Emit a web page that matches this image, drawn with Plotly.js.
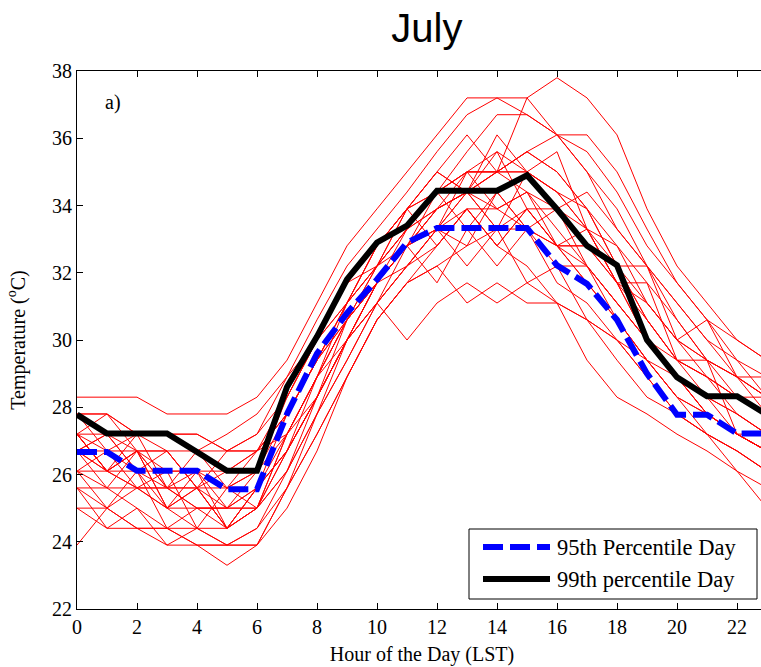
<!DOCTYPE html>
<html>
<head>
<meta charset="utf-8">
<script src="https://cdn.plot.ly/plotly-3.0.1.min.js"></script>
<style>
html, body { margin: 0; padding: 0; overflow: hidden; background: #fff; }
#chart { width: 768px; height: 667px; }
</style>
</head>
<body>
<div id="chart"></div>
<script>
// Hour of the day (LST)
var hours = [0,1,2,3,4,5,6,7,8,9,10,11,12,13,14,15,16,17,18,19,20,21,22,23];

// Individual July days (°C)
var day01 = [27.8,27.8,27.2,27.2,26.7,26.7,27.2,28.9,30.6,32.2,33.3,34.4,35.6,36.7,37.2,37.2,37.8,37.2,36.1,33.9,32.2,31.1,30.0,29.4];
var day02 = [28.3,28.3,28.3,27.8,27.8,27.8,28.3,29.4,31.1,32.8,33.9,35.0,36.1,37.2,37.2,36.7,36.1,35.0,33.3,32.2,31.1,30.0,29.4,28.9];
var day03 = [27.2,26.1,26.7,25.6,26.1,25.0,26.1,28.3,30.0,31.7,32.8,33.9,35.0,36.1,35.0,37.2,36.1,36.1,35.0,33.3,31.7,30.6,30.0,29.4];
var day04 = [26.7,26.1,25.6,25.0,24.4,23.9,24.4,26.1,28.3,30.6,32.2,33.3,34.4,35.6,36.7,36.7,36.1,35.0,33.9,32.2,30.6,29.4,28.3,27.8];
var day05 = [27.8,27.2,26.1,26.7,25.6,26.1,26.7,27.8,29.4,31.1,32.8,33.9,35.0,34.4,36.1,35.0,35.6,33.3,32.8,31.7,30.6,29.4,28.9,28.3];
var day06 = [26.1,25.6,25.0,24.4,23.9,23.9,23.9,25.6,27.8,30.0,31.7,32.8,33.9,34.4,35.0,35.6,35.0,33.9,32.2,30.6,29.4,28.9,27.8,27.2];
var day07 = [26.7,27.2,26.1,25.0,25.6,24.4,25.6,27.2,28.9,30.6,31.7,32.8,34.4,33.3,34.4,33.3,33.9,32.8,31.7,30.6,29.4,28.9,28.3,27.8];
var day08 = [27.2,26.1,27.2,26.7,25.6,26.7,27.2,28.3,30.0,31.1,32.2,32.8,33.3,34.4,33.3,33.9,32.8,32.2,31.1,30.0,29.4,28.9,28.3,28.3];
var day09 = [23.9,25.0,25.6,25.6,25.0,25.0,25.6,26.7,28.3,30.0,31.7,33.3,33.9,34.4,33.9,33.3,32.8,31.7,30.6,29.4,28.3,27.8,27.2,26.7];
var day10 = [25.6,25.0,24.4,24.4,23.9,23.3,23.9,25.6,27.2,28.9,30.6,31.7,32.2,32.8,33.3,33.3,32.8,31.7,30.6,29.4,28.3,27.2,26.7,26.1];
var day11 = [25.0,25.0,24.4,24.4,24.4,24.4,25.0,26.7,28.3,30.0,31.1,30.0,31.1,31.7,31.1,31.7,31.1,30.6,30.0,29.4,28.9,27.8,27.2,26.7];
var day12 = [27.2,27.8,26.7,26.7,25.6,25.6,26.7,27.2,28.9,30.6,32.2,33.9,35.0,34.4,35.6,33.9,33.9,32.2,31.1,30.0,28.9,28.3,27.8,27.2];
var day13 = [26.7,25.6,26.7,25.0,26.1,24.4,25.6,27.8,29.4,30.6,31.7,32.8,31.7,33.3,32.2,33.3,31.7,31.1,30.0,28.9,27.8,27.2,26.7,26.1];
var day14 = [26.1,26.1,25.6,25.6,25.0,25.0,25.0,26.1,27.8,29.4,31.1,32.2,33.3,33.9,33.9,34.4,33.9,33.3,31.7,31.7,29.4,29.4,27.2,26.7];
var day15 = [27.8,26.7,27.2,25.6,25.6,24.4,25.0,27.2,28.9,30.0,31.1,32.2,32.8,33.9,32.8,32.2,31.1,29.4,28.3,27.8,27.2,26.7,26.1,25.6];
var day16 = [27.2,26.7,26.7,26.1,26.1,25.6,26.1,27.8,29.4,31.1,32.8,33.9,34.4,35.0,35.6,35.0,34.4,33.3,31.7,30.0,28.9,27.8,27.2,26.7];
var day17 = [25.6,24.4,25.0,23.9,24.4,23.9,24.4,25.6,27.2,28.9,30.6,31.7,32.8,33.9,32.8,33.9,32.8,32.8,32.2,31.1,30.0,29.4,28.9,28.3];
var day18 = [26.7,27.2,26.7,26.7,26.7,27.2,27.8,28.9,30.0,31.1,32.2,33.3,33.9,34.4,35.0,35.0,34.4,33.9,32.2,32.2,30.0,30.6,28.9,28.9];
var day19 = [26.1,25.0,26.1,24.4,25.0,25.0,25.6,26.7,28.3,30.0,31.7,32.8,33.3,35.0,33.9,34.4,32.8,33.3,31.7,30.0,28.9,27.8,27.2,26.7];
var day20 = [25.0,24.4,24.4,23.9,23.9,23.9,23.9,25.0,26.7,28.9,30.6,31.7,32.2,31.1,31.7,31.1,31.1,30.6,30.0,28.9,27.8,27.2,26.1,25.0];
var day21 = [27.2,26.1,26.7,25.6,26.7,25.6,26.1,27.2,28.3,30.0,31.7,32.8,33.3,32.8,34.4,33.3,32.2,32.2,30.6,29.4,28.3,27.8,27.2,27.2];
var day22 = [26.7,26.1,26.1,25.6,25.6,25.0,25.0,26.7,28.9,31.1,32.8,33.9,34.4,35.0,35.0,35.6,35.0,33.9,32.8,31.1,30.0,28.9,28.3,27.8];
var day23 = [27.8,27.8,27.2,27.2,27.2,26.7,26.7,27.8,29.4,30.6,31.7,32.8,33.9,34.4,35.0,35.6,36.1,35.6,34.4,32.8,31.7,30.6,29.4,28.3];
var day24 = [26.1,26.7,25.6,26.1,24.4,25.6,25.0,27.2,28.9,30.6,31.7,32.2,33.3,32.2,33.3,31.7,32.2,30.6,29.4,28.3,27.8,27.2,26.7,26.1];
var day25 = [25.6,25.6,25.6,25.0,25.0,24.4,25.0,26.1,27.8,29.4,31.1,32.8,33.9,35.0,35.0,34.4,33.3,32.2,31.1,30.0,28.9,28.3,27.8,27.2];
var day26 = [27.2,26.1,26.7,25.0,25.6,24.4,25.6,26.7,28.3,30.0,31.1,32.2,33.3,34.4,33.3,35.0,33.9,34.4,33.3,32.2,31.1,30.0,28.9,27.8];
var day27 = [26.7,26.7,26.1,26.1,26.1,26.1,26.7,28.3,30.0,31.7,32.2,33.9,32.8,33.9,32.8,33.9,32.8,32.8,31.7,31.1,30.0,29.4,28.9,28.3];
var day28 = [27.2,27.2,27.2,27.2,27.2,26.7,26.7,27.8,29.4,31.1,32.2,33.3,34.4,35.0,35.0,35.0,34.4,33.3,32.2,30.6,29.4,28.3,27.2,26.7];

// Percentile days (°C)
var p95 = [26.67,26.67,26.11,26.11,26.11,25.56,25.56,27.8,29.6,30.8,31.8,32.9,33.33,33.33,33.33,33.33,32.22,31.67,30.6,29.0,27.78,27.78,27.22,27.22];
var p99 = [27.78,27.22,27.22,27.22,26.67,26.11,26.11,28.6,30.1,31.8,32.9,33.4,34.44,34.44,34.44,34.9,33.89,32.8,32.22,30.0,28.89,28.33,28.33,27.78];

var legendNames = ['95th Percentile Day', '99th percentile Day'];
var xTicks = [0,2,4,6,8,10,12,14,16,18,20,22];
var yTicks = [22,24,26,28,30,32,34,36,38];

var days = [day01,day02,day03,day04,day05,day06,day07,day08,day09,day10,day11,day12,day13,day14,
            day15,day16,day17,day18,day19,day20,day21,day22,day23,day24,day25,day26,day27,day28];

var traces = days.map(function (d, i) {
  return { x: hours, y: d, type: 'scatter', mode: 'lines', name: 'Day ' + (i + 1),
           line: { color: '#ff0000', width: 1 }, showlegend: false, hoverinfo: 'x+y' };
});
traces.push({ x: hours, y: p95, type: 'scatter', mode: 'lines', name: legendNames[0],
              line: { color: '#0000ff', width: 6, dash: '20px,7px' }, showlegend: false });
traces.push({ x: hours, y: p99, type: 'scatter', mode: 'lines', name: legendNames[1],
              line: { color: '#000000', width: 6 }, showlegend: false });

var serif = 'Liberation Serif, Times New Roman, serif';
function px(v) { return (v - 77) / 690; }
function py(v) { return (609 - v) / 538; }

var layout = {
  width: 768, height: 667,
  margin: { l: 77, r: 1, t: 71, b: 58 },
  paper_bgcolor: '#ffffff', plot_bgcolor: '#ffffff',
  showlegend: false,
  title: { text: 'July', font: { family: 'Liberation Sans, Arial, sans-serif', size: 40, color: '#000' },
           x: 0.507, xref: 'paper', xanchor: 'center', y: 0.958, yref: 'container', yanchor: 'middle' },
  xaxis: {
    range: [0, 23], tickvals: xTicks, ticktext: xTicks.map(String),
    ticks: 'inside', ticklen: 6, tickcolor: '#000', tickwidth: 1,
    showline: true, linecolor: '#000', linewidth: 1, mirror: 'ticks',
    showgrid: false, zeroline: false,
    tickfont: { family: serif, size: 20, color: '#000' },
    title: { text: 'Hour of the Day (LST)', font: { family: serif, size: 20, color: '#000' }, standoff: 9 }
  },
  yaxis: {
    range: [22, 38], tickvals: yTicks, ticktext: yTicks.map(String),
    ticks: 'inside', ticklen: 6, tickcolor: '#000', tickwidth: 1,
    showline: true, linecolor: '#000', linewidth: 1, mirror: 'ticks',
    showgrid: false, zeroline: false,
    tickfont: { family: serif, size: 20, color: '#000' },
    title: { text: 'Temperature (<sup>o</sup>C)', font: { family: serif, size: 20, color: '#000' }, standoff: 21 }
  },
  shapes: [
    { type: 'rect', xref: 'paper', yref: 'paper', x0: px(469), x1: px(757), y0: py(599), y1: py(529),
      line: { color: '#000', width: 1 }, fillcolor: '#ffffff', layer: 'above' },
    { type: 'line', xref: 'paper', yref: 'paper', x0: px(483), x1: px(550), y0: py(547), y1: py(547),
      line: { color: '#0000ff', width: 6, dash: '20px,7px' }, layer: 'above' },
    { type: 'line', xref: 'paper', yref: 'paper', x0: px(483), x1: px(550), y0: py(579), y1: py(579),
      line: { color: '#000000', width: 6 }, layer: 'above' }
  ],
  annotations: [
    { text: 'a)', xref: 'paper', yref: 'paper', x: px(103), y: py(103), xanchor: 'left', yanchor: 'middle',
      showarrow: false, font: { family: serif, size: 20, color: '#000' } },
    { text: legendNames[0], xref: 'paper', yref: 'paper', x: px(555), y: py(547), xanchor: 'left', yanchor: 'middle',
      showarrow: false, font: { family: serif, size: 22.5, color: '#000' } },
    { text: legendNames[1], xref: 'paper', yref: 'paper', x: px(555), y: py(579), xanchor: 'left', yanchor: 'middle',
      showarrow: false, font: { family: serif, size: 22.5, color: '#000' } }
  ]
};

Plotly.newPlot('chart', traces, layout, { staticPlot: true, displayModeBar: false });
</script>
</body>
</html>
